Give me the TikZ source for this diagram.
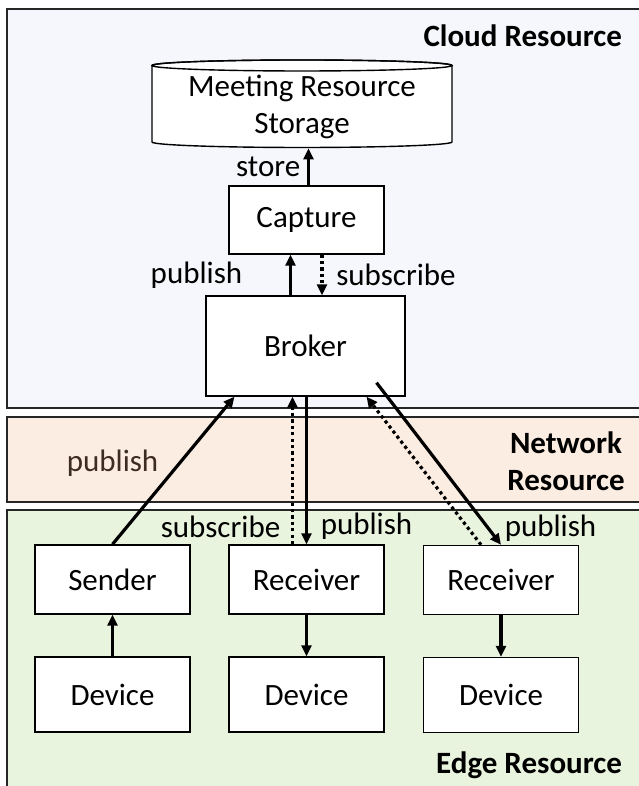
\documentclass[tikz,border=0pt]{standalone}
\usepackage{fontspec}
\setmainfont{Carlito}
\usetikzlibrary{arrows.meta}

\definecolor{cloudfill}{RGB}{245,247,252}
\definecolor{netfill}{RGB}{252,237,227}
\definecolor{edgefill}{RGB}{233,244,222}
\definecolor{netbrown}{RGB}{60,44,34}

\begin{document}
\begin{tikzpicture}[x=0.5pt, y=0.5pt, node distance=57.5pt,
        font=\fontsize{15.5}{18.5}\selectfont,
        >={Triangle[length=5.5pt,width=5pt]},
        panel/.style = {draw=black!85, line width=1pt},
        main/.style = {draw, fill=white, line width=0.7pt, minimum width=77.5pt, minimum height=34.5pt, inner sep=0pt},
        dev/.style = {main, minimum height=37.5pt},
        flow/.style = {->, line width=1.6pt},
        sub/.style = {->, line width=1.6pt, dash pattern=on 1.6pt off 1.6pt},
        zone/.style = {font=\fontsize{15.5}{18.5}\selectfont\bfseries, anchor=east}]
    \useasboundingbox (0,0) rectangle (638,786);

    % resource zones
    \draw[panel, fill=cloudfill] (7,777) rectangle (650,378);
    \draw[panel, fill=netfill] (7,369) rectangle (650,284);
    \draw[panel, fill=edgefill] (7,276) rectangle (650,-20);
    \node[zone] (cloudlbl) at (629,750) {Cloud Resource};
    \node[zone, align=center, anchor=center] (netlbl) at (566,325) {Network\\Resource};
    \node[zone] (edgelbl) at (629,21) {Edge Resource};

    % storage cylinder
    \draw[line width=0.7pt, fill=white] (152,720.5) -- (152,644)
        arc[start angle=180, end angle=360, x radius=150, y radius=5.5]
        -- (452,720.5) arc[start angle=0, end angle=180, x radius=150, y radius=5.5] -- cycle;
    \draw[line width=0.7pt] (302,720.5) ellipse[x radius=150, y radius=5.5];
    \node[align=center, minimum width=150pt, minimum height=41pt, inner sep=0pt] (storage) at (302,679) {Meeting Resource\\Storage};

    \node[main, minimum height=34pt] (capture) at (306.5,566) {Capture};
    \node[main, minimum width=99.5pt, minimum height=50pt] (broker) at (305.5,440) {Broker};

    \node[main] (sender) at (112.5,206.5) {Sender};
    \node[main] (recv1) at (306.5,206.5) {Receiver};
    \node[main] (recv2) at (501,206) {Receiver};
    \node[dev] (dev1) [below of=sender] {Device};
    \node[dev] (dev2) [below of=recv1] {Device};
    \node[dev] (dev3) [below of=recv2] {Device};

    % cloud side
    \draw[flow] ([xshift=1pt]capture.north) to node[midway, left] {store} ([xshift=1pt]capture.north |- storage.south);
    \draw[flow] ([xshift=-7.5pt]broker.north) to node[midway, left=20pt] {publish} ([xshift=-7.5pt]broker.north |- capture.south);
    \draw[sub] ([xshift=7.75pt]capture.south) to node[midway, right=3pt] {subscribe} ([xshift=7.75pt]capture.south |- broker.north);

    % broker to edge
    \draw[flow] (sender.north) to node[pos=0.55, left=6.5pt, text=netbrown] {publish} ([xshift=-35.5pt]broker.south);
    \draw[sub] ([xshift=-7pt]recv1.north) to node[pos=0.12, left=2pt] {subscribe} ([xshift=-7pt]recv1.north |- broker.south);
    \draw[flow] (recv1.north |- broker.south) to node[pos=0.88, right=3pt] {publish} (recv1.north);
    \draw[sub] ([xshift=-10pt]recv2.north) to ([xshift=30.5pt]broker.south);
    \draw[flow] ([xshift=35.5pt, yshift=7pt]broker.south) to node[pos=0.9, right=4pt] {publish} (recv2.north);

    % devices
    \draw[flow] (dev1) to (sender);
    \draw[flow] (recv1) to (dev2);
    \draw[flow] (recv2) to (dev3);
\end{tikzpicture}
\end{document}
